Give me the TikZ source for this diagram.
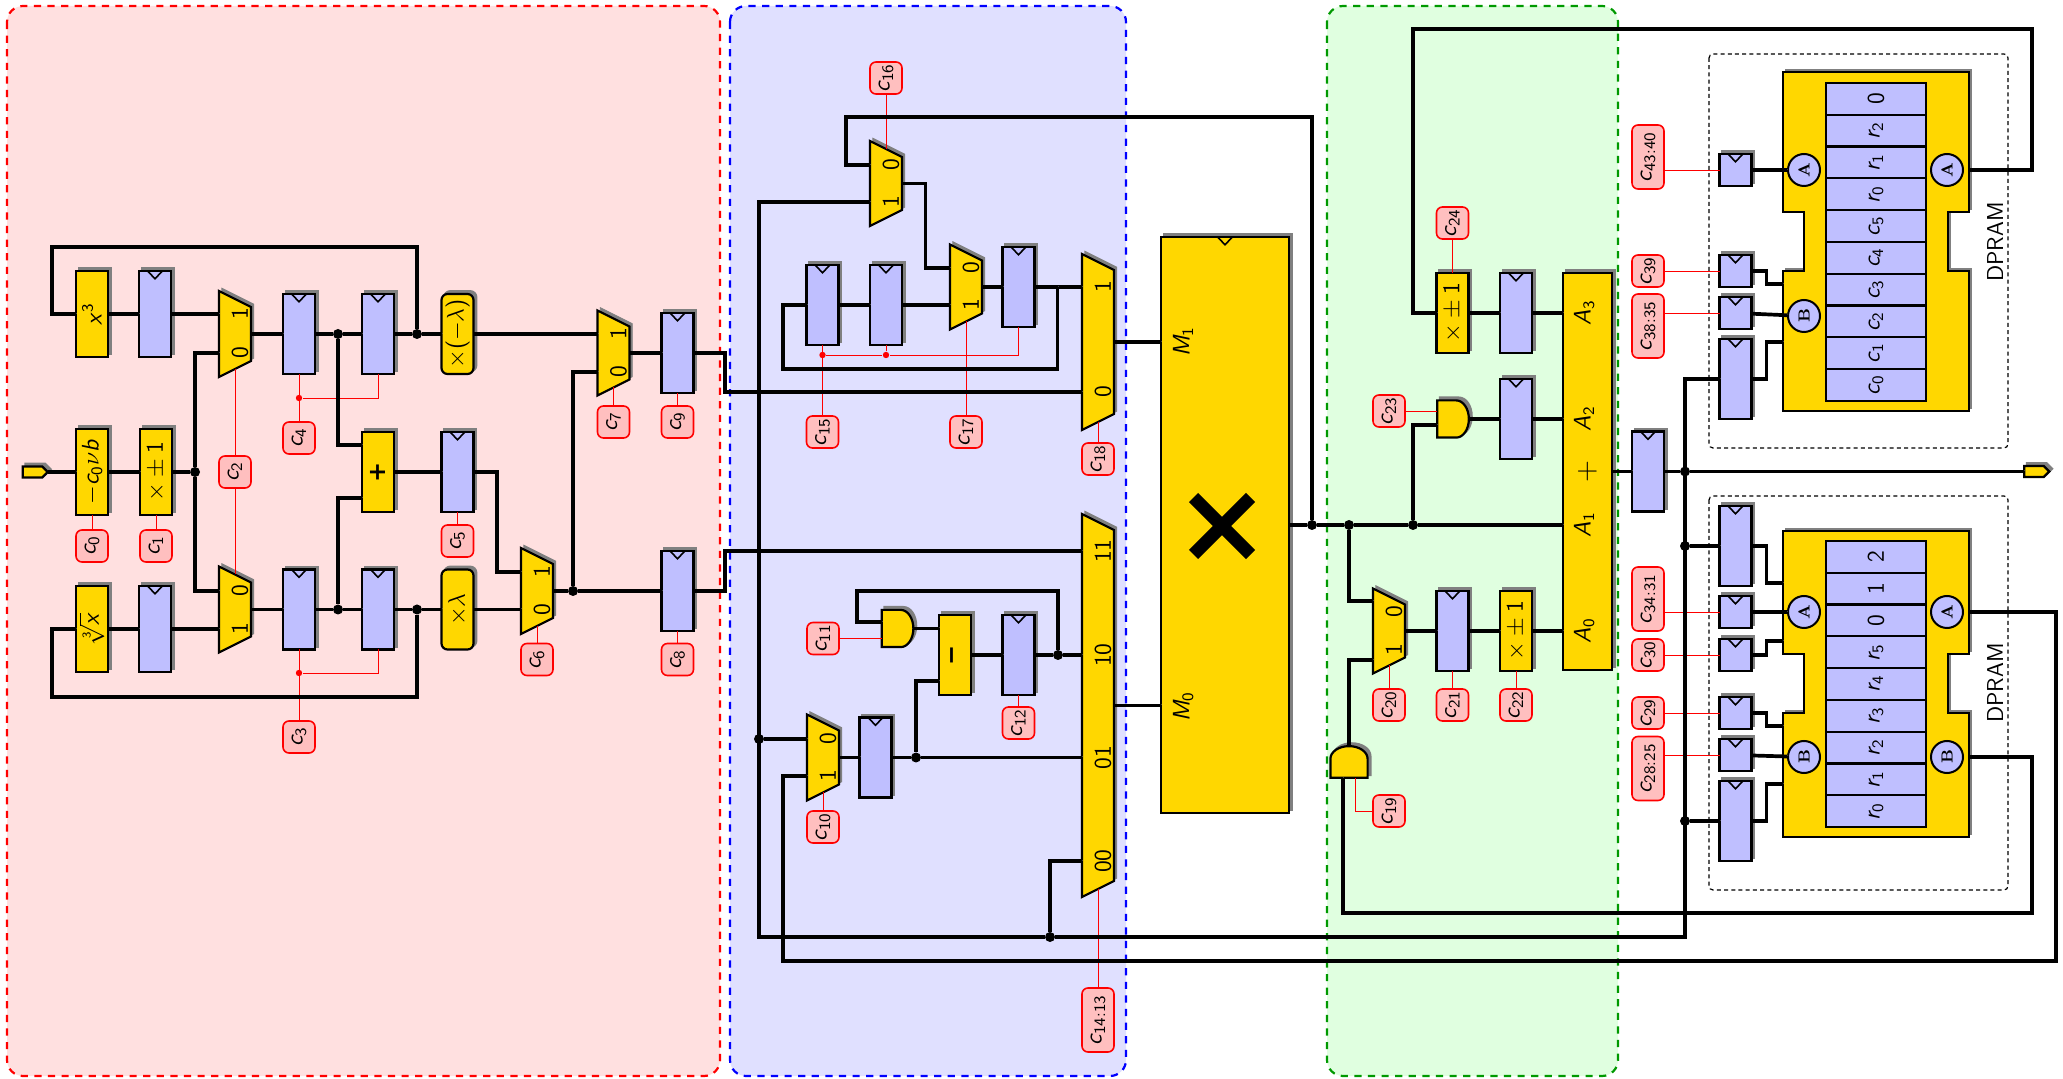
\documentclass[tikz,border=0pt]{standalone}
\usepackage{amsmath, amssymb}
\usepackage[no-math]{fontspec}
\usepackage{tikz}
\usetikzlibrary{arrows.meta, positioning, calc, shapes.misc, shapes.symbols, shapes.gates.logic.US}
\DeclareSymbolFont{operators}{OT1}{cmss}{m}{n}
\DeclareSymbolFont{letters}{OT1}{cmss}{m}{sl}
\DeclareSymbolFont{greekletters}{OML}{cmm}{m}{it}
\DeclareMathSymbol{\nu}{\mathord}{greekletters}{"17}
\DeclareMathSymbol{\lambda}{\mathord}{greekletters}{"15}
\newfontfamily\heavyfont{DejaVu Sans Bold}
\definecolor{opyellow}{HTML}{FFD700}
\definecolor{reglav}{HTML}{BFBFFF}
\newcommand{\rt}[1]{\rotatebox{90}{$#1$}}
\tikzset{
	shadowed/.style={preaction={draw=gray, fill=gray, transform canvas={shift={(1.4pt,1.4pt)}}}},
	clocked/.style={path picture={\draw[line width=.8pt] ([xshift=-3.7pt]path picture bounding box.north) -- ([yshift=-3.9pt]path picture bounding box.north) -- ([xshift=3.7pt]path picture bounding box.north);}},
	basebox/.style={draw, line width=1.1pt, shadowed, inner sep=0pt, outer sep=0pt, minimum width=16pt, minimum height=40pt, font=\large},
	opbox/.style={basebox, fill=opyellow},
	regbox/.style={basebox, fill=reglav, clocked},
	ctlbox/.style={draw=red, line width=.8pt, fill=red!25, rounded corners=3pt, inner sep=0pt, minimum width=16pt, minimum height=16pt, font=\large},
	andbox/.style={and gate US, logic gate inputs=nn, draw, line width=1.1pt, fill=opyellow, shadowed, inner sep=0pt, outer sep=0pt, xscale=.68, minimum width=16pt, minimum height=15.5pt},
	muxcore/.style={inner sep=0pt, outer sep=0pt, minimum width=16pt},
	muxshape/.style={draw, line width=1.1pt, fill=opyellow, shadowed, line join=miter},
	muxlabel/.style={inner sep=0pt, font=\large},
	memcell/.style={draw, line width=1.1pt, fill=reglav, inner sep=0pt, minimum width=50pt, minimum height=15.9pt, font=\large},
	portcirc/.style={circle, draw, line width=1pt, fill=reglav, inner sep=0pt, minimum size=16pt, font=\footnotesize},
	portbox/.style={signal, signal to=east, draw, line width=1.1pt, fill=opyellow, shadowed, inner sep=0pt, outer sep=0pt, minimum width=12.5pt, minimum height=5.5pt},
	dot/.style={circle, fill=black, inner sep=0pt, minimum size=5pt},
	reddot/.style={circle, fill=red, inner sep=0pt, minimum size=3.2pt},
	wire/.style={line width=1.85pt, line join=miter, preaction={draw=gray, opacity=.5, transform canvas={shift={(.5pt,.5pt)}}}},
	ctlwire/.style={draw=red, line width=.45pt},
	panel/.style={line width=1.1pt, dash pattern=on 3.6pt off 3.2pt, rounded corners=8pt},
	dpbox/.style={draw, line width=.6pt, dash pattern=on 2pt off 1.6pt, rounded corners=2pt},
	dplabel/.style={font=\fontsize{11.5}{13}\selectfont\sffamily},
}
\newcommand{\muxbox}[4]{%
	\node[muxcore, minimum height=#4] (#1) at (#2,#3) {};
	\draw[muxshape] (#1.north west) -- ([yshift=-8pt]#1.north east) -- ([yshift=8pt]#1.south east) -- (#1.south west) -- cycle;
	\coordinate (#1-up) at ([yshift=-4pt]#1.north);
	\coordinate (#1-dn) at ([yshift=4pt]#1.south);
}
\newcommand{\muxin}[4]{%
	\coordinate (#1-#2) at (#1.west |- 0,#3);
	\node[muxlabel] (#1-l#2) at ([xshift=10.5pt]#1-#2) {\rt{#4}};
}
\newcommand{\ramshape}[3]{%
	\draw[opbox, line join=miter] (#1.north west) -- (#1.north east) -- (#1.east |- 0,#2) -- (1948,#2) -- (1948,#3) -- (#1.east |- 0,#3) -- (#1.south east) -- (#1.south west) -- (#1.west |- 0,#3) -- (1804,#3) -- (1804,#2) -- (#1.west |- 0,#2) -- cycle;
}
\begin{document}
\begin{tikzpicture}[x=.5pt, y=-.5pt]
	\useasboundingbox (0,0) rectangle (2063,1079);
	\draw[panel, draw=red, fill=red!12] (7,6) rectangle (720,1076);
	\draw[panel, draw=blue, fill=blue!12] (730,6) rectangle (1126,1076);
	\draw[panel, draw=green!60!black, fill=green!12] (1327,6) rectangle (1618,1076);
	\draw[dpbox] (1709,54) rectangle (2008,448);
	\draw[dpbox] (1709,496) rectangle (2008,890);

	\node[portbox] (portin) at (32.5,472) {};
	\node[opbox, minimum height=43pt] (cube) at (92,314) {\rt{x^3}};
	\node[regbox, minimum height=43pt] (rcube) at (155,314) {};
	\node[opbox, minimum height=43pt] (neg) at (92,472) {\rt{-c_0\nu b}};
	\node[opbox, minimum height=43pt] (pm) at (156,472) {\rt{\times\pm 1}};
	\node[opbox, minimum height=43pt] (root) at (92,629) {\rt{\sqrt[3]{x}}};
	\node[regbox, minimum height=43pt] (rroot) at (155,629) {};
	\node[dot] (jf) at (195,472) {};
	\muxbox{mxa}{235}{334}{43pt}
	\muxin{mxa}{a}{314}{1}
	\muxin{mxa}{b}{353}{0}
	\muxbox{mxb}{235}{609.5}{43pt}
	\muxin{mxb}{a}{591}{0}
	\muxin{mxb}{b}{629}{1}
	\node[regbox] (ra) at (299,334) {};
	\node[regbox] (rb) at (378,334) {};
	\node[regbox] (rc) at (299,609.5) {};
	\node[regbox] (rd) at (378,609.5) {};
	\node[dot] (ja) at (338,334) {};
	\node[dot] (jb) at (417,334) {};
	\node[dot] (jc) at (338,609.5) {};
	\node[dot] (jd) at (417,609.5) {};
	\node[opbox, rounded corners=3pt] (negl) at (457.5,334) {\rt{\times(-\lambda)}};
	\node[opbox, rounded corners=3pt] (lam) at (457.5,609.5) {\rt{\times\lambda}};
	\node[opbox] (add) at (378,472) {\rotatebox{90}{\heavyfont +}};
	\node[regbox] (radd) at (457.5,472) {};
	\muxbox{mxc}{537}{591}{43pt}
	\muxin{mxc}{a}{572}{1}
	\muxin{mxc}{b}{609.5}{0}
	\muxbox{mxd}{613.5}{353}{42.5pt}
	\muxin{mxd}{a}{334}{1}
	\muxin{mxd}{b}{372}{0}
	\node[dot] (je) at (573,591) {};
	\node[regbox] (rf) at (677.5,353) {};
	\node[regbox] (rg) at (677.5,591) {};

	\muxbox{mxs}{886}{183.5}{42.5pt}
	\muxin{mxs}{a}{165}{0}
	\muxin{mxs}{b}{202}{1}
	\node[regbox] (rh) at (822.5,305) {};
	\node[regbox] (ri) at (886,305) {};
	\muxbox{mxt}{966}{287}{42.5pt}
	\muxin{mxt}{a}{268}{0}
	\muxin{mxt}{b}{305}{1}
	\node[regbox] (rj) at (1018.5,287) {};
	\muxbox{mxr}{1098}{342}{88pt}
	\muxin{mxr}{a}{287}{1}
	\muxin{mxr}{b}{392}{0}
	\muxbox{mxq}{1098}{705.5}{191.5pt}
	\muxin{mxq}{a}{551}{11}
	\muxin{mxq}{b}{655}{10}
	\muxin{mxq}{c}{757.5}{01}
	\muxin{mxq}{d}{861}{00}
	\muxbox{mxu}{823}{757.5}{43pt}
	\muxin{mxu}{a}{739}{0}
	\muxin{mxu}{b}{776}{1}
	\node[regbox] (rk) at (875.5,757.5) {};
	\node[dot] (jp) at (916,757.5) {};
	\node[opbox] (subt) at (955,655) {\rotatebox{90}{\heavyfont −}};
	\node[regbox] (rl) at (1018.5,655) {};
	\node[dot] (jr) at (1058,655) {};
	\node[andbox] (anda) at (896.5,628.5) {};
	\node[dot] (jq) at (759,739) {};
	\node[dot] (jv) at (1050,937) {};

	\node[opbox, clocked, minimum width=64pt, minimum height=288pt] (mult) at (1225,525) {};
	\node[cross out, draw, line width=6.5pt, minimum size=22pt, inner sep=0pt] (multx) at (1222,526) {};
	\node[inner sep=0pt, font=\large] (mone) at (1183,342) {\rt{M_1}};
	\node[inner sep=0pt, font=\large] (mzero) at (1183,707) {\rt{M_0}};
	\node[dot] (jm) at (1312,525) {};
	\node[dot] (jn) at (1349,525) {};
	\node[dot] (jo) at (1413,525) {};

	\node[opbox] (pmt) at (1452.5,313) {\rt{\times\pm 1}};
	\node[regbox] (rm) at (1516,313) {};
	\node[andbox] (andb) at (1452,419) {};
	\node[regbox] (rn) at (1516,419) {};
	\muxbox{mxw}{1389}{631}{42.5pt}
	\coordinate (mxw-a) at (mxw.west |- 0,601);
	\coordinate (mxw-b) at (mxw.west |- 0,660);
	\node[muxlabel] (mxw-la) at (1394,612) {\rt{0}};
	\node[muxlabel] (mxw-lb) at (1394,650) {\rt{1}};
	\node[regbox] (ro) at (1452.5,631) {};
	\node[opbox] (pmb) at (1516,631) {\rt{\times\pm 1}};
	\node[rotate=90, andbox] (andc) at (1349,763) {};
	\node[opbox, minimum width=24.5pt, minimum height=198.5pt] (fadd) at (1587.5,471.5) {\rotatebox{90}{\Large$+$}};
	\foreach \lab/\yy [count=\i] in {A_3/313,A_2/419,A_1/525,A_0/631}
		\node[inner sep=0pt, font=\large] (alab\i) at (1584,\yy) {\rt{\lab}};

	\node[regbox] (rout) at (1648,471.5) {};
	\node[dot] (jt) at (1685,471.5) {};
	\node[portbox] (portout) at (2034,471.5) {};
	\node[dot] (ju) at (1685,546) {};
	\node[dot] (jw) at (1685,821) {};

	\node[minimum width=93pt, minimum height=169.5pt, inner sep=0pt, outer sep=0pt] (dpa) at (1876,241.5) {};
	\ramshape{dpa}{212}{271}
	\foreach \lab [count=\i from 0] in {0,r_2,r_1,r_0,c_5,c_4,c_3,c_2,c_1,c_0}
		\node[memcell] (ma\i) at (1876,{98.9+\i*31.8}) {\rt{\lab}};
	\node[portcirc] (cra) at (1804,170) {\rotatebox{90}{$\mathbf{A}$}};
	\node[portcirc] (crb) at (1947,170) {\rotatebox{90}{$\mathbf{A}$}};
	\node[portcirc] (crc) at (1804,316) {\rotatebox{90}{$\mathbf{B}$}};
	\node[regbox, minimum height=16pt] (sa) at (1735.5,170) {};
	\node[regbox, minimum height=16pt] (sb) at (1735.5,271) {};
	\node[regbox, minimum height=16pt] (sc) at (1735.5,313) {};
	\node[regbox] (sd) at (1735.5,379) {};
	\node[dplabel] (dplabA) at (1995,242) {\rotatebox{90}{DPRAM}};
	\coordinate (tb) at (1783,284);
	\coordinate (td) at (1783,342);

	\node[minimum width=93pt, minimum height=153pt, inner sep=0pt, outer sep=0pt] (dpb) at (1876,684) {};
	\ramshape{dpb}{654}{713}
	\foreach \lab [count=\i from 0] in {2,1,0,r_5,r_4,r_3,r_2,r_1,r_0}
		\node[memcell] (mb\i) at (1876,{556.9+\i*31.8}) {\rt{\lab}};
	\node[portcirc] (crd) at (1804,612) {\rotatebox{90}{$\mathbf{A}$}};
	\node[portcirc] (cre) at (1947,612) {\rotatebox{90}{$\mathbf{A}$}};
	\node[portcirc] (crf) at (1804,757) {\rotatebox{90}{$\mathbf{B}$}};
	\node[portcirc] (crg) at (1947,757) {\rotatebox{90}{$\mathbf{B}$}};
	\node[regbox] (ta) at (1735.5,546) {};
	\node[regbox, minimum height=16pt] (tf) at (1735.5,612) {};
	\node[regbox, minimum height=16pt] (tg) at (1735.5,655) {};
	\node[regbox, minimum height=16pt] (th) at (1735.5,713) {};
	\node[regbox, minimum height=16pt] (ti) at (1735.5,755) {};
	\node[regbox] (tj) at (1735.5,821) {};
	\node[dplabel] (dplabB) at (1995,683) {\rotatebox{90}{DPRAM}};
	\coordinate (la) at (1783,583);
	\coordinate (lg) at (1783,641);
	\coordinate (lh) at (1783,726);
	\coordinate (lj) at (1783,784);

	\foreach \name/\xx/\yy/\txt in {c0/92/546/c_0, c1/156/546/c_1, c2/235/472/c_2, c3/299/737/c_3, c4/299/438/c_4, c5/457.5/541/c_5, c6/537/659.5/c_6, c7/613.5/422/c_7, c8/677.5/659.5/c_8, c9/677.5/422/c_9, c10/823/827/c_{10}, c11/823/638.5/c_{11}, c12/1018.5/723/c_{12}, c15/822.5/432/c_{15}, c16/886/78/c_{16}, c17/966/432/c_{17}, c18/1098/459/c_{18}, c19/1389/811/c_{19}, c20/1389/705/c_{20}, c21/1452.5/705/c_{21}, c22/1516/705/c_{22}, c23/1389/411/c_{23}, c24/1452.5/223/c_{24}, c30/1648/655/c_{30}, c29/1648/713/c_{29}, c39/1648/271/c_{39}}
		\node[ctlbox] (\name) at (\xx,\yy) {\rt{\txt}};
	\node[ctlbox, minimum height=32pt] (cmux) at (1098,1020) {\rt{c_{14:13}}};
	\node[ctlbox, minimum height=32pt] (cmea) at (1648,157) {\rt{c_{43:40}}};
	\node[ctlbox, minimum height=32pt] (cmeb) at (1648,326) {\rt{c_{38:35}}};
	\node[ctlbox, minimum height=32pt] (cmec) at (1648,599) {\rt{c_{34:31}}};
	\node[ctlbox, minimum height=32pt] (cmed) at (1648,768.5) {\rt{c_{28:25}}};

	\node[reddot] (da) at (299,398) {};
	\node[reddot] (db) at (299,673) {};
	\node[reddot] (dc) at (822.5,355) {};
	\node[reddot] (dd) at (886,355) {};

	\foreach \a/\b in {neg/c0, pm/c1, mxa-dn/c2, c2/mxb-up, ra/c4, rc/c3, radd/c5, mxc-dn/c6, mxd-dn/c7, rg/c8, rf/c9, mxu-dn/c10, c16/mxs-up, rh/c15, mxt-dn/c17, ri/dd, dc/dd, mxr-dn/c18, mxq-dn/cmux, rl/c12, mxw-dn/c20, ro/c21, pmb/c22, c24/pmt}
		\draw[ctlwire] (\a) -- (\b);
	\draw[ctlwire] (rb.south) |- (da);
	\draw[ctlwire] (rd.south) |- (db);
	\draw[ctlwire] (rj.south) |- (dd);
	\draw[ctlwire] (c11.east) -- (c11.east -| anda.input 2);
	\draw[ctlwire] (c23.east) -- (c23.east -| andb.input 1);
	\draw[ctlwire] (andc.input 2) |- (c19);
	\draw[ctlwire] (cmea.east |- sa) -- (sa);
	\draw[ctlwire] (c39) -- (sb);
	\draw[ctlwire] (cmeb.east |- sc) -- (sc);
	\draw[ctlwire] (cmec.east |- tf) -- (tf);
	\draw[ctlwire] (c30) -- (tg);
	\draw[ctlwire] (c29) -- (th);
	\draw[ctlwire] (cmed.east |- ti) -- (ti);

	\foreach \a/\b in {portin/neg, neg/pm, pm/jf, cube/rcube, rcube/mxa-a, root/rroot, rroot/mxb-b, mxa/ra, ra/ja, ja/rb, rb/jb, jb/negl, negl/mxd-a, mxb/rc, rc/jc, jc/rd, rd/jd, jd/lam, lam/mxc-b, add/radd, mxc/je, je/rg, mxd/rf, rh/ri, ri/mxt-b, mxt/rj, mxu/rk, rk/jp, jp/mxq-c, subt/rl, rl/jr, jr/mxq-b, jq/mxu-a, mxw/ro, ro/pmb, jm/jn, jn/jo, pmt/rm, jt/portout, fadd/rout, rout/jt, sa/cra, sc/crc, tf/crd, ti/crf}
		\draw[wire] (\a) -- (\b);
	\draw[wire] (jf) |- (mxa-b);
	\draw[wire] (jf) |- (mxb-a);
	\coordinate (fba) at (52,247);
	\coordinate (fbb) at (52,697);
	\draw[wire] (jb) |- (fba) |- (cube.west);
	\draw[wire] (jd) |- (fbb) |- (root.west);
	\draw[wire] (ja) |- ([yshift=13.5pt]add.west);
	\draw[wire] (jc) |- ([yshift=-13pt]add.west);
	\coordinate (kc) at (497,520);
	\draw[wire] (radd) -- (radd -| kc) |- (mxc-a);
	\draw[wire] (je) |- (mxd-b);
	\coordinate (kd) at (725,370);
	\coordinate (ke) at (725,570);
	\draw[wire] (rf) -- (rf -| kd) |- (mxr-b);
	\draw[wire] (rg) -- (rg -| ke) |- (mxq-a);

	\coordinate (kf) at (846,117);
	\draw[wire] (jm) |- (kf) |- (mxs-a);
	\coordinate (kg) at (759,937);
	\coordinate (kh) at (925.5,220);
	\draw[wire] (mxs.east) -| (kh) |- (mxt-a);
	\coordinate (jg) at (1057.5,287);
	\coordinate (ki) at (783,369);
	\draw[wire] (rj) -- (mxr-a);
	\draw[wire] (jg) |- (ki) |- (rh.west);
	\draw[wire] (mxs-b) -| (kg) -- (jv);
	\draw[wire] (jv) |- (mxq-d);
	\coordinate (kx) at (1685,937);
	\draw[wire] (jv) -- (kx) |- (sd.west);
	\draw[wire] (ju) -- (ta);
	\draw[wire] (jw) -- (tj);
	\draw[wire] (jp) |- ([yshift=-13pt]subt.west);
	\coordinate (km) at (857,591);
	\draw[wire] (jr) |- (km) |- (anda.input 1);
	\draw[wire] (anda.output) -- (anda.output -| subt.west);
	\draw[wire] (mxr.east) -- (mxr.east -| mult.west);
	\draw[wire] (mxq.east) -- (mxq.east -| mult.west);

	\draw[wire] (mult) -- (jm);
	\draw[wire] (jo) -- (jo -| fadd.west);
	\draw[wire] (jn) |- (mxw-a);
	\draw[wire] (jo) |- (andb.input 2);
	\draw[wire] (andb.output) -- (rn);
	\draw[wire] (rm) -- (rm -| fadd.west);
	\draw[wire] (rn) -- (rn -| fadd.west);
	\draw[wire] (pmb) -- (pmb -| fadd.west);
	\draw[wire] (andc.output) |- (mxw-b);

	\coordinate (ko) at (2032,29);
	\coordinate (kp) at (1413,29);
	\draw[wire] (crb -| dpa.east) -| (ko) -- (kp) |- (pmt.west);
	\coordinate (kj) at (783,961);
	\coordinate (kk) at (2056,800);
	\draw[wire] (mxu-b) -| (kj) -| (kk) |- (cre -| dpb.east);
	\coordinate (kq) at (2032,913);
	\draw[wire] (crg -| dpb.east) -| (kq) -| (andc.input 1);

	\foreach \a/\b in {sb/tb, sd/td, ta/la, tg/lg, th/lh, tj/lj}
		\draw[wire] (\a.east) -- ++(15,0) |- (\b);
\end{tikzpicture}
\end{document}
